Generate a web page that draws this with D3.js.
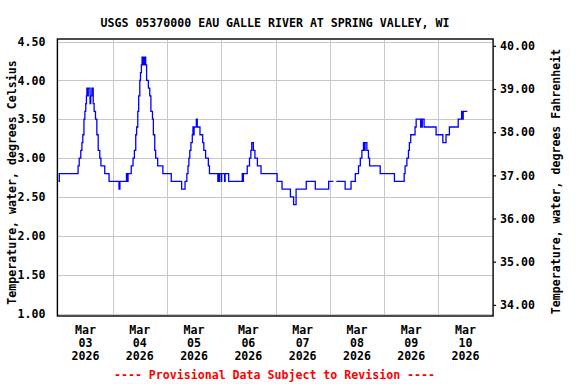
<!DOCTYPE html>
<html lang="en">
<head>
    <meta charset="UTF-8">
    <title>USGS 05370000 water temperature</title>
    <script src="https://d3js.org/d3.v7.min.js"></script>
    <style>
        body { margin: 0; background: #fff; }
        text { font-family: "DejaVu Sans Mono", monospace; font-weight: bold; font-size: 11.6px; }
    </style>
</head>
<body>
    <script>
        // water temperature, step series
        // hours after 2026-03-03 00:00, value in deg C (null = gap in record)
        var stepHours = [
            0, 0.4, 8.7, 9.2, 9.9, 10.4, 10.8, 11.3, 11.7, 12.1, 12.4, 12.6, 13.0, 13.2, 14.0, 14.3, 14.8,
            15.4, 15.8, 16.4, 17.0, 17.6, 18.3, 18.8, 19.2, 20.5, 22.4, 26.8, 27.2, 30.1, 30.4, 30.8,
            32.2, 33.0, 33.6, 34.2, 34.6, 35.1, 35.5, 36.0, 36.3, 36.7, 37.0, 37.3, 37.6, 38.0, 38.3,
            38.6, 39.0, 39.8, 40.4, 40.9, 41.6, 42.0, 42.6, 43.0, 43.9, 46.2, 49.9, 54.5, 56.0, 56.8,
            57.3, 57.7, 58.1, 58.6, 59.2, 59.5, 59.7, 60.0, 61.0, 61.4, 62.6, 63.8, 64.3, 65.1, 66.3,
            66.8, 70.5, 70.7, 71.0, 71.2, 72.0, 72.2, 73.5, 73.7, 75.3, 81.3, 81.6, 81.8, 82.0, 83.5,
            84.5, 85.1, 85.5, 86.2, 86.9, 88.0, 89.6, 96.7, 98.9, 102.6, 104.0, 105.1, 109.6, 113.6,
            119.5, 121.6, 121.7, 122.9, 126.8, 129.4, 129.8, 131.3, 132.7, 133.5, 134.2, 134.9, 135.3,
            135.6, 136.4, 137.1, 137.6, 142.3, 148.6, 152.9, 153.3, 154.1, 154.8, 155.2, 155.8, 156.7,
            157.7, 158.2, 160.2, 160.4, 160.7, 160.9, 161.7, 167.0, 170.0, 171.4, 172.9, 176.8, 178.3,
            178.8, 179.0, 180.8
        ];
        var stepTempC = [
            2.7, 2.8, 2.9, 3.0, 3.1, 3.2, 3.3, 3.5, 3.6, 3.7, 3.8, 3.9, 3.8, 3.9, 3.7, 3.8, 3.9,
            3.7, 3.6, 3.5, 3.3, 3.1, 3.0, 2.9, 2.9, 2.8, 2.7, 2.6, 2.7, 2.8, 2.7, 2.8,
            2.9, 3.0, 3.1, 3.3, 3.4, 3.6, 3.8, 4.0, 4.1, 4.2, 4.3, 4.2, 4.3, 4.2, 4.3,
            4.2, 4.0, 3.9, 3.8, 3.6, 3.5, 3.3, 3.1, 3.0, 2.9, 2.8, 2.7, 2.6, 2.7, 2.8,
            2.9, 3.0, 3.1, 3.2, 3.3, 3.4, 3.3, 3.4, 3.5, 3.4, 3.3, 3.2, 3.1, 3.0, 2.9,
            2.8, 2.7, 2.8, 2.7, 2.8, 2.7, 2.8, 2.7, 2.8, 2.7, 2.8, 2.7, 2.8, 2.8, 2.9,
            3.0, 3.1, 3.2, 3.1, 3.0, 2.9, 2.8, 2.7, 2.6, 2.5, 2.4, 2.6, 2.7, 2.6,
            2.7, 2.7, null, 2.7, 2.6, 2.7, 2.7, 2.8, 2.9, 3.0, 3.1, 3.2, 3.1,
            3.2, 3.1, 3.0, 2.9, 2.8, 2.7, 2.8, 2.9, 3.0, 3.1, 3.2, 3.3, 3.3,
            3.4, 3.5, 3.4, 3.5, 3.4, 3.5, 3.4, 3.3, 3.2, 3.3, 3.4, 3.5, 3.6,
            3.5, 3.6, 3.6
        ];

        var celsiusTicks = [1.0, 1.5, 2.0, 2.5, 3.0, 3.5, 4.0, 4.5];
        var fahrenheitTicks = [34, 35, 36, 37, 38, 39, 40];
        var startDay = Date.UTC(2026, 2, 3);
        var endDay = Date.UTC(2026, 2, 11);

        var title = 'USGS 05370000 EAU GALLE RIVER AT SPRING VALLEY, WI';
        var leftLabel = 'Temperature, water, degrees Celsius';
        var rightLabel = 'Temperature, water, degrees Fahrenheit';
        var footer = '---- Provisional Data Subject to Revision ----';

        var w = 576;
        var h = 384;
        // plot box (window.top is reserved, so keep names prefixed)
        var plotL = 58.4, plotR = 492.6, plotT = 41.5, plotB = 313.5;

        var dataset = stepHours.map(function(hr, i) {
            return { date: new Date(startDay + hr * 3600000), value: stepTempC[i] };
        });

        var xScale = d3.scaleUtc()
                       .domain([new Date(startDay), new Date(endDay)])
                       .range([plotL, plotR]);
        var yScale = d3.scaleLinear()
                       .domain([1, 4.5])
                       .range([plotB, plotT]);
        var yScaleF = d3.scaleLinear()
                        .domain([1 * 1.8 + 32, 4.5 * 1.8 + 32])
                        .range([plotB, plotT]);

        var svg = d3.select('body')
                    .append('svg')
                    .attr('width', w)
                    .attr('height', h);

        // grid
        var days = d3.utcDay.range(new Date(startDay), new Date(endDay));
        svg.append('g')
           .selectAll('line')
           .data(days.slice(1))
           .enter()
           .append('line')
           .attr('x1', function(d) { return Math.round(xScale(d)) + 0.5; })
           .attr('x2', function(d) { return Math.round(xScale(d)) + 0.5; })
           .attr('y1', plotT - 2)
           .attr('y2', plotB + 2)
           .attr('stroke', '#c8c8c8')
           .attr('shape-rendering', 'crispEdges');

        svg.append('g')
           .selectAll('line')
           .data(celsiusTicks)
           .enter()
           .append('line')
           .attr('x1', plotL)
           .attr('x2', plotR)
           .attr('y1', function(d) { return Math.round(yScale(d)) + 0.5; })
           .attr('y2', function(d) { return Math.round(yScale(d)) + 0.5; })
           .attr('stroke', '#c8c8c8')
           .attr('shape-rendering', 'crispEdges');

        // data line
        var line = d3.line()
                     .defined(function(d) { return d.value !== null; })
                     .curve(d3.curveStepAfter)
                     .x(function(d) { return xScale(d.date); })
                     .y(function(d) { return yScale(d.value); });

        svg.append('path')
           .datum(dataset)
           .attr('d', line)
           .attr('fill', 'none')
           .attr('stroke', '#0000ff')
           .attr('stroke-width', 1.3);

        // frame
        svg.append('rect')
           .attr('x', plotL - 1)
           .attr('y', plotT - 2.5)
           .attr('width', plotR - plotL + 1.5)
           .attr('height', plotB - plotT + 5)
           .attr('fill', 'none')
           .attr('stroke', '#000')
           .attr('stroke-width', 1.4);

        // axes
        var yAxis = d3.axisLeft(yScale)
                      .tickValues(celsiusTicks)
                      .tickSize(0)
                      .tickPadding(13)
                      .tickFormat(d3.format('.2f'));
        var gl = svg.append('g')
                    .attr('transform', 'translate(' + plotL + ',0)')
                    .call(yAxis);
        gl.select('.domain').remove();

        var yAxisF = d3.axisRight(yScaleF)
                       .tickValues(fahrenheitTicks)
                       .tickSize(3)
                       .tickPadding(4)
                       .tickFormat(d3.format('.2f'));
        var gr = svg.append('g')
                    .attr('transform', 'translate(' + (plotR + 0.5) + ',0)')
                    .call(yAxisF);
        gr.select('.domain').remove();
        gr.selectAll('line').attr('stroke-width', 1.2);

        svg.selectAll('.tick text')
           .attr('fill', '#000')
           .style('font-size', '11.6px')
           .style('font-family', '"DejaVu Sans Mono", monospace')
           .style('font-weight', 'bold');

        // date labels at noon
        var dateFmt = [d3.utcFormat('%b'), d3.utcFormat('%d'), d3.utcFormat('%Y')];
        var dl = svg.append('g')
                    .selectAll('text')
                    .data(days)
                    .enter()
                    .append('text')
                    .attr('text-anchor', 'middle');
        dateFmt.forEach(function(f, k) {
            dl.append('tspan')
              .attr('x', function(d) { return xScale(d3.utcHour.offset(d, 12)); })
              .attr('y', 334 + k * 12.8)
              .text(function(d) { return f(d); });
        });

        svg.append('text')
           .attr('x', 275)
           .attr('y', 27)
           .attr('text-anchor', 'middle')
           .text(title);

        svg.append('text')
           .attr('transform', 'translate(16,182.5) rotate(-90)')
           .attr('text-anchor', 'middle')
           .text(leftLabel);

        svg.append('text')
           .attr('transform', 'translate(560,181.5) rotate(-90)')
           .attr('text-anchor', 'middle')
           .text(rightLabel);

        svg.append('text')
           .attr('x', 274.5)
           .attr('y', 379)
           .attr('text-anchor', 'middle')
           .attr('fill', '#ff0000')
           .text(footer);
    </script>
</body>
</html>
